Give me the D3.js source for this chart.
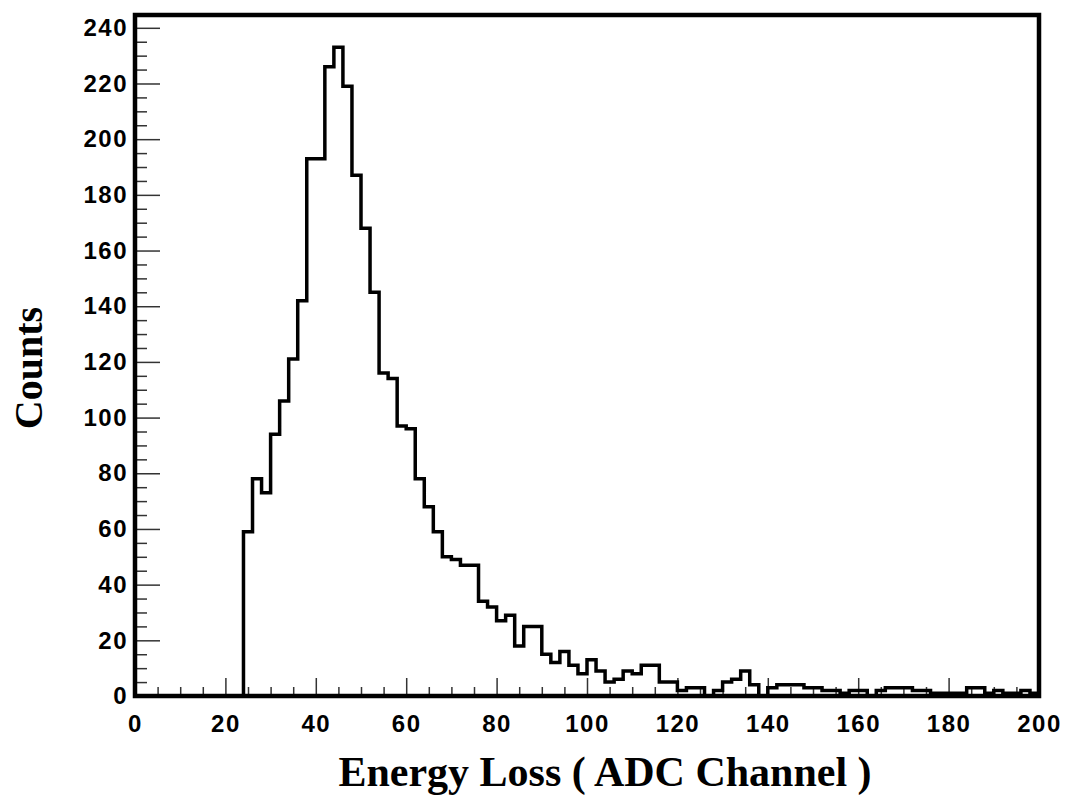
<!DOCTYPE html>
<html>
<head>
<meta charset="utf-8">
<script src="https://cdn.jsdelivr.net/npm/d3@7"></script>
<style>
  body { margin: 0; background: #fff; }
</style>
</head>
<body>
<div id="chart"></div>
<script>
// Histogram data: bins of width 2 starting at channel 24
const binStart = 24;
const binWidth = 2;
const counts = [
  59, 78, 73, 94, 106, 121, 142, 193, 193, 226,
  233, 219, 187, 168, 145, 116, 114, 97, 96, 78,
  68, 59, 50, 49, 47, 47, 34, 32, 27, 29,
  18, 25, 25, 15, 12, 16, 11, 8, 13, 9,
  5, 6, 9, 8, 11, 11, 5, 5, 2, 3,
  3, 0, 2, 5, 6, 9, 4, 0, 3, 4,
  4, 4, 3, 3, 2, 2, 1, 2, 2, 0,
  2, 3, 3, 3, 2, 2, 1, 1, 1, 1,
  3, 3, 1, 2, 1, 1, 2, 1
];
const xTicks = [0, 20, 40, 60, 80, 100, 120, 140, 160, 180, 200];
const yTicks = [0, 20, 40, 60, 80, 100, 120, 140, 160, 180, 200, 220, 240];

const svgWidth = 1071;
const svgHeight = 810;
const margin = { top: 15, right: 32, bottom: 114, left: 135 };
const chartWidth = svgWidth - margin.left - margin.right;
const chartHeight = svgHeight - margin.top - margin.bottom;

const svg = d3.select("#chart")
  .append("svg")
  .attr("width", svgWidth)
  .attr("height", svgHeight);

const chart = svg.append("g")
  .attr("transform", `translate(${margin.left}, ${margin.top})`);

const xScale = d3.scaleLinear()
  .domain([0, 200])
  .range([0, chartWidth]);

const yScale = d3.scaleLinear()
  .domain([0, 244.6])
  .range([chartHeight, 0]);

const labelStyle = g => g.selectAll("text")
  .attr("font-family", "'Liberation Sans', Arial, sans-serif")
  .attr("font-weight", "bold")
  .attr("font-size", 24)
  .attr("letter-spacing", 1.5)
  .attr("fill", "#000");

// Minor ticks every 5 units, drawn inward
const xMinor = d3.range(0, 201, 5).filter(v => v % 20 !== 0);
const yMinor = d3.range(0, 245, 5).filter(v => v % 20 !== 0);

chart.append("g")
  .attr("transform", `translate(0, ${chartHeight})`)
  .call(d3.axisBottom(xScale).tickValues(xMinor).tickSize(-9).tickFormat(""))
  .call(g => g.select(".domain").remove())
  .selectAll("line").attr("stroke", "#333").attr("stroke-width", 1.5);

chart.append("g")
  .attr("transform", `translate(0, ${chartHeight})`)
  .call(d3.axisBottom(xScale).tickValues(xTicks).tickSize(-18).tickPadding(19))
  .call(g => g.select(".domain").remove())
  .call(g => g.selectAll("line").attr("stroke", "#333").attr("stroke-width", 1.5))
  .call(labelStyle);

chart.append("g")
  .call(d3.axisLeft(yScale).tickValues(yMinor).tickSize(-12).tickFormat(""))
  .call(g => g.select(".domain").remove())
  .selectAll("line").attr("stroke", "#333").attr("stroke-width", 1.5);

chart.append("g")
  .call(d3.axisLeft(yScale).tickValues(yTicks).tickSize(-25).tickPadding(7))
  .call(g => g.select(".domain").remove())
  .call(g => g.selectAll("line").attr("stroke", "#333").attr("stroke-width", 1.5))
  .call(labelStyle);

// Histogram outline
const points = [[binStart, 0]];
counts.forEach((c, i) => points.push([binStart + i * binWidth, c]));
points.push([binStart + counts.length * binWidth, counts[counts.length - 1]]);

const line = d3.line()
  .x(d => xScale(d[0]))
  .y(d => yScale(d[1]))
  .curve(d3.curveStepAfter);

chart.append("path")
  .datum(points)
  .attr("fill", "none")
  .attr("stroke", "#000")
  .attr("stroke-width", 3.5)
  .attr("stroke-linejoin", "miter")
  .attr("d", line);

// Frame
chart.append("rect")
  .attr("x", 0)
  .attr("y", 0)
  .attr("width", chartWidth)
  .attr("height", chartHeight)
  .attr("fill", "none")
  .attr("stroke", "#000")
  .attr("stroke-width", 4.5);

// Axis titles
svg.append("text")
  .attr("x", 605)
  .attr("y", 786)
  .attr("text-anchor", "middle")
  .attr("font-family", "'Liberation Serif', 'Times New Roman', serif")
  .attr("font-weight", "bold")
  .attr("font-size", 42)
  .text("Energy Loss ( ADC Channel )");

svg.append("text")
  .attr("transform", "translate(42, 368) rotate(-90)")
  .attr("text-anchor", "middle")
  .attr("font-family", "'Liberation Serif', 'Times New Roman', serif")
  .attr("font-weight", "bold")
  .attr("font-size", 40)
  .text("Counts");
</script>
</body>
</html>
